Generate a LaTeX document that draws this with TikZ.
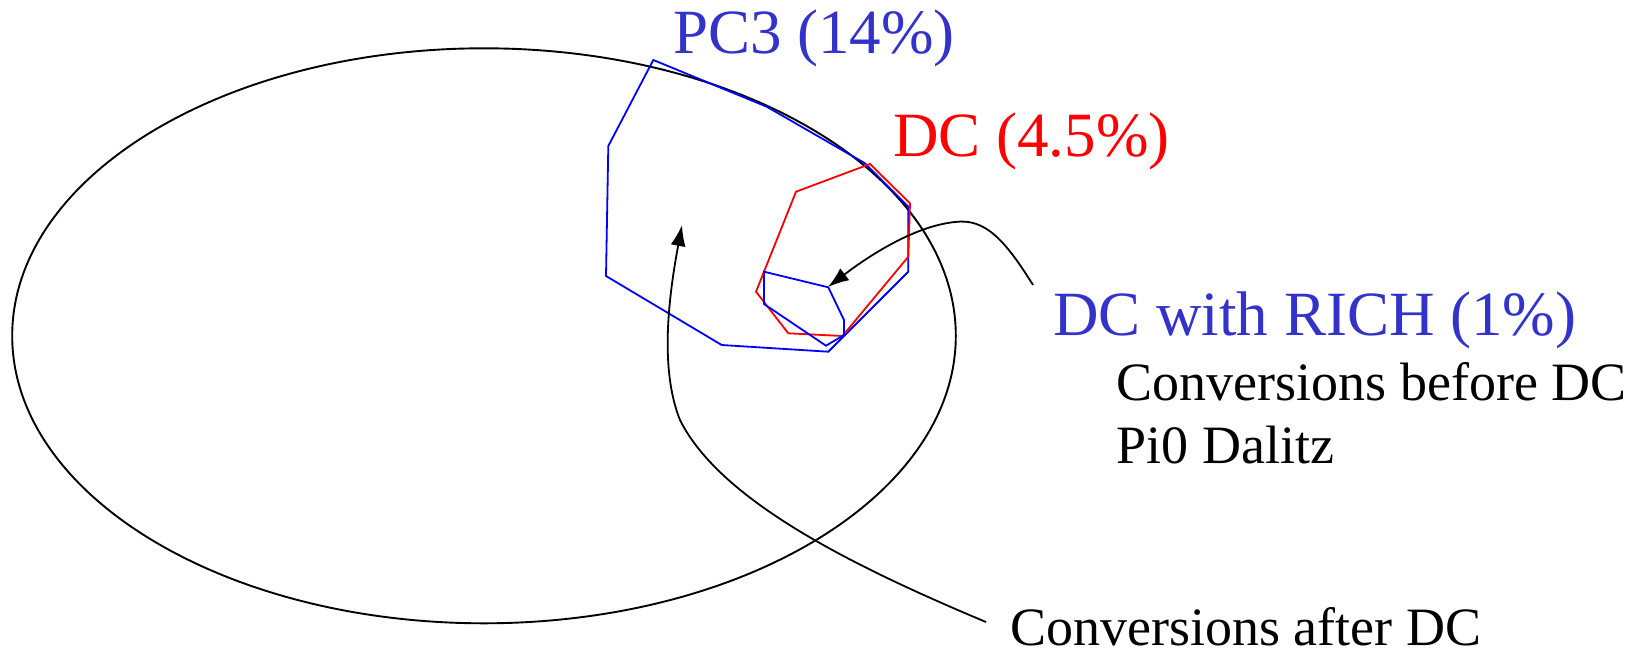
\documentclass[tikz,border=0pt]{standalone}
\usepackage{fontspec}
\setmainfont{Liberation Serif}
\usetikzlibrary{arrows.meta}
\definecolor{labelblue}{RGB}{51,51,204}

\begin{document}
\begin{tikzpicture}[
  x = 1pt, y = -1pt,
  every node/.style = {inner sep=0pt, anchor=base west},
  big/.style = {font=\fontsize{63}{70}\selectfont},
  small/.style = {font=\fontsize{54}{60}\selectfont},
  det/.style = {line width=1.8pt, line join=miter},
  arr/.style = {-{Latex[length=21pt, width=15pt]}, line width=1.8pt}
]
\useasboundingbox (0,0) rectangle (1634,654);

\draw[line width=1.9pt] (484,335.8) ellipse [x radius=471.8pt, y radius=287.5pt];

% acceptance outlines
\draw[det, blue] (653.3,60) -- (766.7,106.7) -- (865,163.3) -- (908.3,206.7) -- (908.3,271.7)
  -- (828.3,351.7) -- (721.7,345) -- (606,276) -- (608.3,146) -- cycle;   % PC3
\draw[det, red] (870,164) -- (910,203.3) -- (908.3,256.7) -- (842.5,336) -- (788.3,333.3)
  -- (756,291.7) -- (796,191.7) -- cycle;                                   % DC
\draw[det, blue] (764,271.7) -- (828.3,287.3) -- (844,320) -- (844,335) -- (826,345.7)
  -- (764,304) -- cycle;                                                    % DC + RICH

\node[big, labelblue] (pc3)    at (673,53.3)    {PC3 (14\%)};
\node[big, red]       (dc)     at (893,156.7)   {DC (4.5\%)};
\node[big, labelblue] (rich)   at (1053,335)    {DC with RICH (1\%)};
\node[small]          (before) at (1116.7,400)  {Conversions before DC};
\node[small]          (dalitz) at (1116.7,463.3) {Pi0 Dalitz};
\node[small]          (after)  at (1010,645)    {Conversions after DC};

\coordinate (richtail)  at (1033,285);
\coordinate (richtip)   at (828,287);
\coordinate (aftertail) at (986,622);
\coordinate (aftertip)  at (682,225);

\draw[arr] (richtail) .. controls (1005,240) and (985,218) .. (955,222)
  .. controls (915,226) and (870,255) .. (richtip);     % into RICH region
\draw[arr] (aftertail) .. controls (850,565) and (720,500) .. (680,420)
  .. controls (660,370) and (668,300) .. (aftertip);    % into PC3 region

\end{tikzpicture}
\end{document}
